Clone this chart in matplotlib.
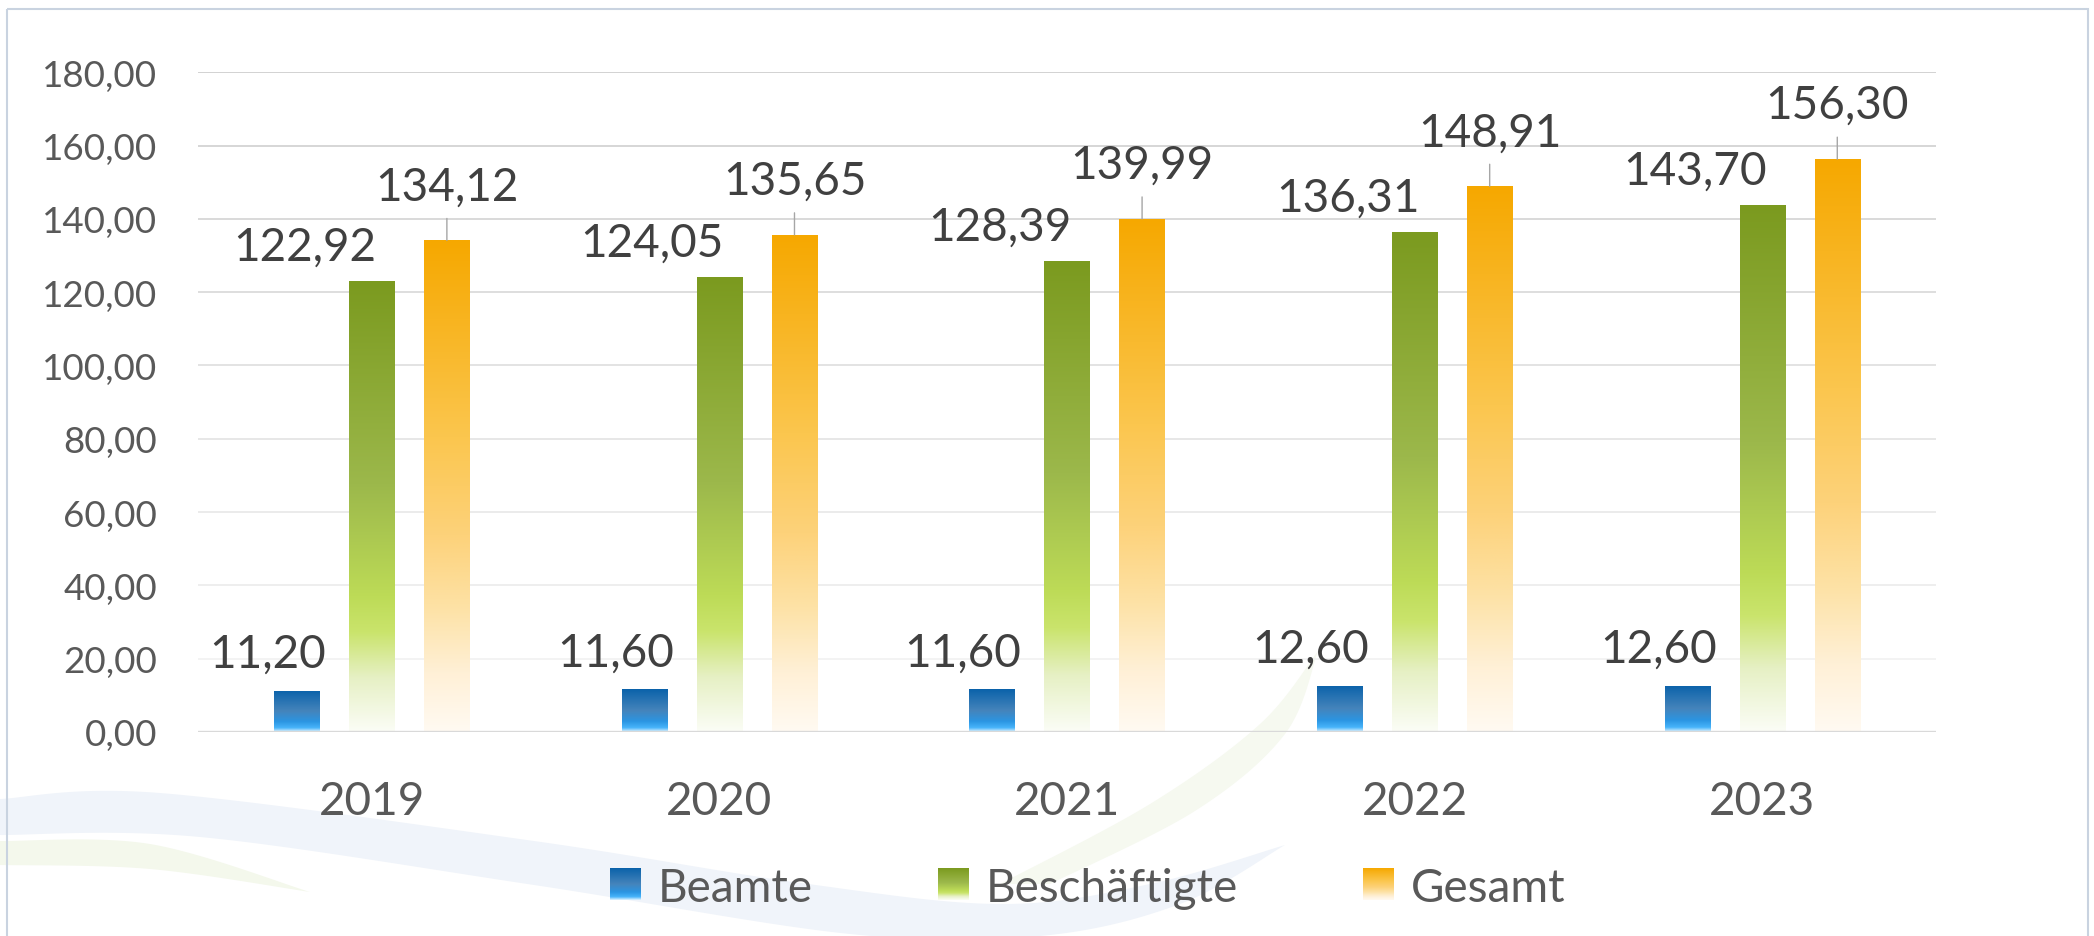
import numpy as np
import matplotlib
matplotlib.use("Agg")
import matplotlib.pyplot as plt
from matplotlib.colors import LinearSegmentedColormap
from matplotlib.patches import Rectangle, Polygon
from matplotlib.transforms import IdentityTransform

# ---------------- data ----------------
years = ["2019", "2020", "2021", "2022", "2023"]
beamte = [11.20, 11.60, 11.60, 12.60, 12.60]
beschaeftigte = [122.92, 124.05, 128.39, 136.31, 143.70]
gesamt = [134.12, 135.65, 139.99, 148.91, 156.30]
series_names = ["Beamte", "Beschäftigte", "Gesamt"]
y_ticks = [0, 20, 40, 60, 80, 100, 120, 140, 160, 180]


def fmt(v):
    return f"{v:.2f}".replace(".", ",")


plt.rcParams["font.family"] = ["Lato", "DejaVu Sans"]

W, H = 2094, 937
DPI = 100
fig = plt.figure(figsize=(W / DPI, H / DPI), dpi=DPI)
fig.patch.set_facecolor("white")

# ---------------- background decoration ----------------
bg = fig.add_axes([0, 0, 1, 1], zorder=-5)
bg.set_xlim(0, W)
bg.set_ylim(H, 0)
bg.axis("off")


def catmull(pts, n=30):
    pts = np.asarray(pts, float)
    P = np.vstack([pts[0], pts, pts[-1]])
    out = []
    for i in range(1, len(P) - 2):
        p0, p1, p2, p3 = P[i - 1], P[i], P[i + 1], P[i + 2]
        t = np.linspace(0, 1, n, endpoint=False)[:, None]
        seg = 0.5 * ((2 * p1) + (-p0 + p2) * t + (2 * p0 - 5 * p1 + 4 * p2 - p3) * t ** 2
                     + (-p0 + 3 * p1 - 3 * p2 + p3) * t ** 3)
        out.append(seg)
    out.append(P[-2][None, :])
    return np.vstack(out)


def band(upper, lower, color, alpha=1.0):
    a = catmull(upper)
    b = catmull(lower)
    poly = Polygon(np.vstack([a, b]), closed=True, facecolor=color,
                   edgecolor="none", alpha=alpha)
    bg.add_patch(poly)


# main blue wave
band([(0, 800), (160, 794), (534, 842), (801, 884), (1001, 905), (1150, 885), (1285, 846)],
     [(1285, 846), (1180, 905), (1040, 937), (850, 935), (534, 886), (200, 838), (0, 836)],
     "#f0f4fa")
# green streak lower left
band([(0, 842), (150, 845), (310, 893)],
     [(310, 893), (150, 870), (0, 866)],
     "#f4f8ec")
# rising green sweep
band([(1000, 885), (1150, 805), (1260, 725), (1318, 652)],
     [(1318, 652), (1285, 735), (1195, 812), (1050, 885)],
     "#f6f9f0")

# outer frame
bg.add_patch(Rectangle((7, 10), 2081, 940, facecolor="none",
                       edgecolor="#c9d3e0", lw=1.5))

# ---------------- main axes ----------------
left, right = 198, 1936
top, bottom = 73.3, 733
ax = fig.add_axes([left / W, (H - bottom) / H, (right - left) / W, (bottom - top) / H])
ax.set_facecolor("none")
for s in ax.spines.values():
    s.set_visible(False)

cm_blue = LinearSegmentedColormap.from_list(
    "b", [(0, "#e2f4ff"), (0.1, "#47b4fa"), (0.25, "#2b95e2"), (0.5, "#4584bb"), (1, "#0a62aa")])
cm_green = LinearSegmentedColormap.from_list(
    "g", [(0, "#fbfdf6"), (0.12, "#e6f0c4"), (0.22, "#cae46c"), (0.3, "#bddb57"),
          (0.55, "#9cb84b"), (1, "#7b9a1f")])
cm_orange = LinearSegmentedColormap.from_list(
    "o", [(0, "#fffaf2"), (0.12, "#fff0d6"), (0.25, "#fde2a6"), (0.4, "#fdd27a"),
          (0.6, "#fbc64e"), (1, "#f6a800")])

x = np.arange(len(years))
bw = 0.13
pitch = 0.216
grad = np.linspace(0, 1, 256).reshape(-1, 1)


def grad_bars(xs, vals, cmap):
    bars = ax.bar(xs, vals, bw, color="none", edgecolor="none", zorder=3)
    for b in bars:
        x0, y0, w, h = b.get_x(), b.get_y(), b.get_width(), b.get_height()
        im = ax.imshow(grad, extent=[x0, x0 + w, y0, y0 + h], origin="lower",
                       aspect="auto", cmap=cmap, zorder=3, interpolation="bilinear")
        im.set_clip_path(b)
    return bars


series = [beamte, beschaeftigte, gesamt]
cmaps = [cm_blue, cm_green, cm_orange]
offs = [-pitch, 0, pitch]
all_bars = []
for vals, cm, o in zip(series, cmaps, offs):
    all_bars.append(grad_bars(x + o, vals, cm))

ax.set_xlim(-0.5, len(years) - 0.5)
ax.set_ylim(0, 180)

# gridlines (fade toward the bottom)
for v in y_ticks[1:]:
    c = int(0xc6 + (0xf0 - 0xc6) * (180 - v) / 160)
    ax.axhline(v, color=f"#{c:02x}{c:02x}{c:02x}", lw=1.1, zorder=1)
ax.axhline(0, color="#d9d9d9", lw=1.7, zorder=4)

ax.set_yticks(y_ticks)
ax.set_yticklabels([fmt(v) for v in y_ticks])
ax.set_xticks(x)
ax.set_xticklabels(years)
ax.tick_params(axis="y", length=0, pad=29.5, labelsize=26.5, labelcolor="#595959")
ax.tick_params(axis="x", length=0, pad=34.5, labelsize=33, labelcolor="#595959")

# data labels (offsets in pixels: label moved like in the original)
lab_kw = dict(textcoords="offset pixels", ha="center", va="baseline",
              fontsize=33, color="#404040", zorder=6, annotation_clip=False)
label_offsets = [(-29, 24), (-67, 22), (0, 41)]
for bars, vals, (dx, dy), k in zip(all_bars, series, label_offsets, range(3)):
    for b, v in zip(bars, vals):
        cx = b.get_x() + b.get_width() / 2
        ax.annotate(fmt(v), xy=(cx, v), xytext=(dx, dy), **lab_kw)
        if k == 2:
            ax.annotate("", xy=(cx, v), xytext=(0, 22), textcoords="offset pixels",
                        arrowprops=dict(arrowstyle="-", color="#a6a6a6", lw=1.0,
                                        shrinkA=0, shrinkB=0), zorder=5)

# ---------------- legend (manual, with gradient swatches) ----------------
fig.canvas.draw()
renderer = fig.canvas.get_renderer()
leg_y = H - 885
texts = []
for name in series_names:
    t = fig.text(0, leg_y, name, transform=IdentityTransform(), fontsize=33,
                 color="#595959", va="center_baseline", ha="left")
    texts.append(t)
widths = [t.get_window_extent(renderer).width for t in texts]
sq_w, sq_h, gap_sq, gap_item = 31, 32, 17, 125
total = sum(sq_w + gap_sq + w for w in widths) + gap_item * (len(widths) - 1)
xc = 1088 - total / 2
for t, w, cm in zip(texts, widths, cmaps):
    sax = fig.add_axes([xc / W, (leg_y - sq_h / 2) / H, sq_w / W, sq_h / H])
    sax.imshow(grad, origin="lower", aspect="auto", cmap=cm, extent=[0, 1, 0, 1])
    sax.axis("off")
    t.set_x(xc + sq_w + gap_sq)
    xc += sq_w + gap_sq + w + gap_item

fig.savefig("out.png", dpi=DPI, facecolor="white")
